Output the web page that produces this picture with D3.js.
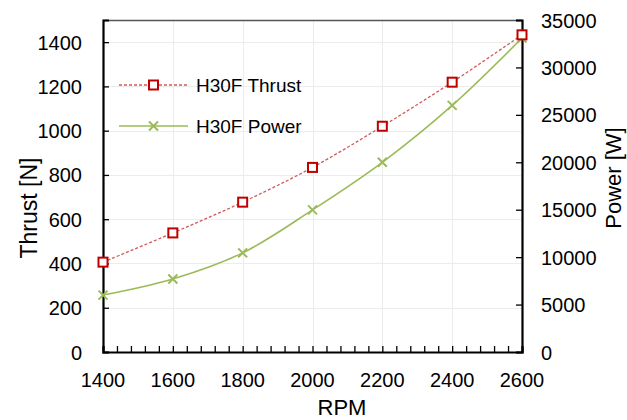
<!DOCTYPE html>
<html>
<head>
<meta charset="utf-8">
<script src="https://cdn.jsdelivr.net/npm/d3@7"></script>
<style>
  html, body { margin: 0; padding: 0; background: #fff; }
  svg { display: block; font-family: "Liberation Sans", Arial, sans-serif; }
</style>
</head>
<body>
<svg id="chart" width="627" height="420"></svg>
<script>
// H30F propeller test: thrust and shaft power against rotational speed
const rpm = [1400, 1600, 1800, 2000, 2200, 2400, 2600];
const thrust = [406, 538, 677, 834, 1020, 1219, 1433];
const power = [6000, 7700, 10450, 14980, 20000, 26000, 33100];
const xTicks = [1400, 1600, 1800, 2000, 2200, 2400, 2600];
const thrustTicks = [0, 200, 400, 600, 800, 1000, 1200, 1400];
const powerTicks = [0, 5000, 10000, 15000, 20000, 25000, 30000, 35000];
const seriesNames = ["H30F Thrust", "H30F Power"];

const svg = d3.select("#chart");
const m = { left: 103, right: 522, top: 20, bottom: 352 };

const x = d3.scaleLinear().domain([1400, 2600]).range([m.left, m.right]);
const yL = d3.scaleLinear().domain([0, 1500]).range([m.bottom, m.top]);
const yR = d3.scaleLinear().domain([0, 35000]).range([m.bottom, m.top]);

const thrustColor = "#c00000";
const thrustLine = "#d05a5a";
const powerColor = "#9bbb59";

// grid
const grid = svg.append("g").attr("stroke", "#ececec").attr("stroke-width", 1);
grid.selectAll(".hg").data(thrustTicks.filter(d => d > 0)).join("line")
  .attr("x1", m.left).attr("x2", m.right)
  .attr("y1", d => Math.round(yL(d)) + 0.5).attr("y2", d => Math.round(yL(d)) + 0.5);
grid.selectAll(".vg").data(xTicks.slice(1, -1)).join("line")
  .attr("y1", m.top).attr("y2", m.bottom)
  .attr("x1", d => Math.round(x(d)) + 0.5).attr("x2", d => Math.round(x(d)) + 0.5);

// top frame
svg.append("line").attr("x1", m.left).attr("x2", m.right)
  .attr("y1", m.top + 0.5).attr("y2", m.top + 0.5)
  .attr("stroke", "#555").attr("stroke-width", 1.5);

// axes
const tickFont = 20;
const gx = svg.append("g").attr("transform", `translate(0,${m.bottom})`)
  .call(d3.axisBottom(x).tickValues(d3.range(1400, 2601, 40)).tickSize(-6).tickFormat(""));
gx.selectAll(".tick line").attr("stroke", "#000").attr("stroke-width", 1.3);
gx.select(".domain").attr("stroke", "#000").attr("stroke-width", 2.2);
svg.append("g").selectAll("text").data(xTicks).join("text")
  .attr("x", d => x(d)).attr("y", 387)
  .attr("text-anchor", "middle").attr("font-size", tickFont).attr("fill", "#000")
  .text(d => d);

const gl = svg.append("g").attr("transform", `translate(${m.left},0)`)
  .call(d3.axisLeft(yL).tickValues(thrustTicks).tickSize(-6).tickFormat(""));
gl.selectAll(".tick line").attr("stroke", "#000").attr("stroke-width", 1.3);
gl.select(".domain").attr("stroke", "#000").attr("stroke-width", 2.2);
svg.append("g").selectAll("text").data(thrustTicks).join("text")
  .attr("x", 82).attr("y", d => yL(d) + 7.5)
  .attr("text-anchor", "end").attr("font-size", tickFont).attr("fill", "#000")
  .text(d => d);

const gr = svg.append("g").attr("transform", `translate(${m.right},0)`)
  .call(d3.axisRight(yR).tickValues(powerTicks).tickSize(-6).tickFormat(""));
gr.selectAll(".tick line").attr("stroke", "#000").attr("stroke-width", 1.3);
gr.select(".domain").attr("stroke", "#000").attr("stroke-width", 2.2);
svg.append("g").selectAll("text").data(powerTicks).join("text")
  .attr("x", 541).attr("y", d => yR(d) + 7.5)
  .attr("text-anchor", "start").attr("font-size", tickFont).attr("fill", "#000")
  .text(d => d);

// axis titles
svg.append("text").attr("x", 342).attr("y", 415).attr("text-anchor", "middle")
  .attr("font-size", 22).text("RPM");
svg.append("text").attr("transform", "translate(37,208) rotate(-90)")
  .attr("text-anchor", "middle").attr("font-size", 23).text("Thrust [N]");
svg.append("text").attr("transform", "translate(621,178) rotate(-90)")
  .attr("text-anchor", "middle").attr("font-size", 22).text("Power [W]");

// series lines
const thrustPts = rpm.map((r, i) => [x(r), yL(thrust[i])]);
const powerPts = rpm.map((r, i) => [x(r), yR(power[i])]);
const curve = d3.line().curve(d3.curveCatmullRom.alpha(0.5));

svg.append("path").attr("d", curve(powerPts)).attr("fill", "none")
  .attr("stroke", powerColor).attr("stroke-width", 1.6);
svg.append("path").attr("d", curve(thrustPts)).attr("fill", "none")
  .attr("stroke", thrustLine).attr("stroke-width", 1.3).attr("stroke-dasharray", "3,2");

function cross(g, cx, cy) {
  const s = 4.5;
  g.append("path").attr("d", `M${cx - s},${cy - s}L${cx + s},${cy + s}M${cx - s},${cy + s}L${cx + s},${cy - s}`)
    .attr("stroke", powerColor).attr("stroke-width", 2).attr("fill", "none");
}
function square(g, cx, cy) {
  g.append("rect").attr("x", cx - 4.5).attr("y", cy - 4.5).attr("width", 9).attr("height", 9)
    .attr("fill", "#fff").attr("stroke", thrustColor).attr("stroke-width", 2);
}

const mk = svg.append("g");
powerPts.forEach(p => cross(mk, p[0], p[1]));
thrustPts.forEach(p => square(mk, p[0], p[1]));

// legend
const lg = svg.append("g");
lg.append("line").attr("x1", 119).attr("x2", 188).attr("y1", 85).attr("y2", 85)
  .attr("stroke", thrustLine).attr("stroke-width", 1.3).attr("stroke-dasharray", "3,2");
square(lg, 153.5, 85);
lg.append("text").attr("x", 196).attr("y", 91.5).attr("font-size", 19).text(seriesNames[0]);
lg.append("line").attr("x1", 119).attr("x2", 188).attr("y1", 126).attr("y2", 126)
  .attr("stroke", powerColor).attr("stroke-width", 1.6);
cross(lg, 153.5, 126);
lg.append("text").attr("x", 196).attr("y", 132.5).attr("font-size", 19).text(seriesNames[1]);
</script>
</body>
</html>
